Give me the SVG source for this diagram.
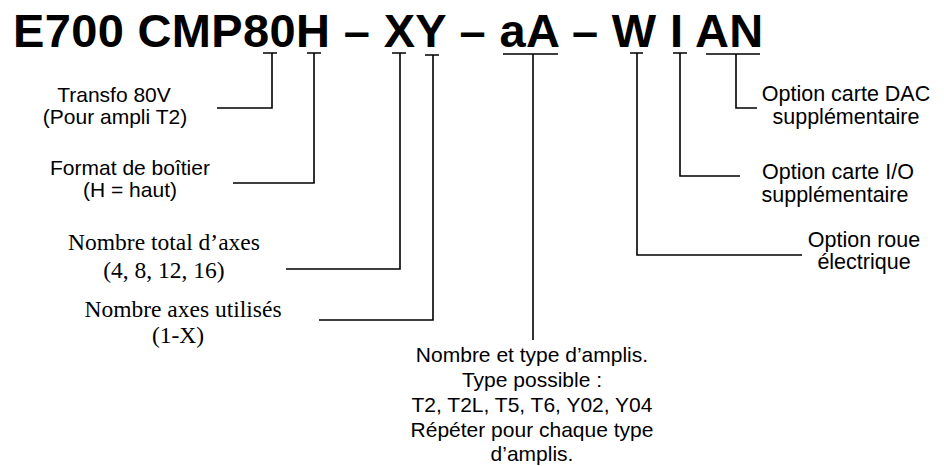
<svg xmlns="http://www.w3.org/2000/svg" width="944" height="466" viewBox="0 0 944 466">
<style>
.t{font-family:"Liberation Sans",Arial,sans-serif;font-weight:bold;font-size:47px;letter-spacing:0.35px;fill:#000}
.s{font-family:"Liberation Sans",Arial,sans-serif;font-size:21px;fill:#000;text-anchor:middle}
.q{font-family:"Liberation Sans",Arial,sans-serif;font-size:21.5px;fill:#000;text-anchor:middle}
.r{font-family:"Liberation Serif","Times New Roman",serif;font-size:23.5px;fill:#000;text-anchor:middle}
.c{fill:none;stroke:#000;stroke-width:1.6}
</style>
<rect width="944" height="466" fill="#fff"/>
<g id="title"><text class="t" x="13" y="47">E700 CMP80H – XY – aA – W I AN</text></g>
<g id="connectors">
<path class="c" d="M263 53H277M272 53V108H217"/>
<path class="c" d="M307 53H321M314 53V183H233"/>
<path class="c" d="M392 53H406M400 53V269H286"/>
<path class="c" d="M425 55H439M433 55V320H319"/>
<path class="c" d="M503 54H558M533 54V340"/>
<path class="c" d="M630 53H643M637 53V255H802"/>
<path class="c" d="M673 53H687M680 53V176H740"/>
<path class="c" d="M706 54H760M736 54V108H757"/>
</g>
<g id="n-transfo"><text class="s" x="114" y="102">Transfo 80V</text><text class="s" x="115" y="124">(Pour ampli T2)</text></g>
<g id="n-format"><text class="s" x="130" y="175">Format de boîtier</text><text class="s" x="130" y="197">(H = haut)</text></g>
<g id="n-total"><text class="r" x="164" y="250">Nombre total d’axes</text><text class="r" x="164" y="278">(4, 8, 12, 16)</text></g>
<g id="n-utilises"><text class="r" x="183" y="317">Nombre axes utilisés</text><text class="r" x="178" y="343">(1-X)</text></g>
<g id="n-amplis">
<text class="s" x="532" y="362">Nombre et type d’amplis.</text>
<text class="s" x="532" y="387">Type possible :</text>
<text class="s" x="532" y="412">T2, T2L, T5, T6, Y02, Y04</text>
<text class="s" x="532" y="437">Répéter pour chaque type</text>
<text class="s" x="532" y="461">d’amplis.</text>
</g>
<g id="n-dac"><text class="q" x="846" y="101">Option carte DAC</text><text class="q" x="846" y="124">supplémentaire</text></g>
<g id="n-io"><text class="q" x="838" y="179">Option carte I/O</text><text class="q" x="835" y="202">supplémentaire</text></g>
<g id="n-roue"><text class="q" x="864" y="247">Option roue</text><text class="q" x="864" y="269">électrique</text></g>
</svg>
